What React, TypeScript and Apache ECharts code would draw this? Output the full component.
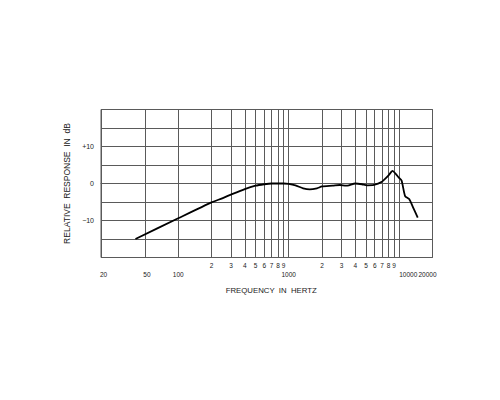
import { useEffect, useRef } from "react";
import * as echarts from "echarts";

// frequency response (Hz, dB)
const freqs = [41, 100, 200, 250, 300, 400, 500, 600, 700, 900, 1000, 1150, 1350, 1550, 1800, 2000, 2500, 2900, 3300, 3500, 4000, 4600, 5100, 5900, 6900, 8000, 8700, 9300, 9900, 10500, 11300, 12300, 13500, 14700];
const response = [-15, -9.4, -5.1, -4.0, -3.0, -1.5, -0.6, -0.2, 0, 0, -0.1, -0.5, -1.3, -1.6, -1.3, -0.8, -0.6, -0.4, -0.6, -0.5, 0, -0.2, -0.5, -0.4, 0.4, 2.2, 3.4, 2.6, 1.6, 0.8, -3.4, -4.2, -6.8, -9.2];

const gridFreqs = [20, 50, 100, 200, 300, 400, 500, 600, 700, 800, 900, 1000, 2000, 3000, 4000, 5000, 6000, 7000, 8000, 9000, 10000, 20000];
const digitFreqs = [200, 300, 400, 500, 600, 700, 800, 900, 2000, 3000, 4000, 5000, 6000, 7000, 8000, 9000];
const mainFreqs = [20, 50, 100, 1000, 10000, 20000];
const yLabelValues = [-10, 0, 10];

const FONT = "'Liberation Sans', Arial, sans-serif";
const TEXT = "#1a1a1a";
const GRID = "#5a5a5a";

// small nudges so the decade labels sit where the original has them
const mainStyle: Record<number, string> = { 20: "l5", 50: "l4", 100: "n", 1000: "n", 10000: "l18", 20000: "r10" };

export default function App() {
  const ref = useRef<HTMLDivElement | null>(null);

  useEffect(() => {
    const el = ref.current!;
    const chart = echarts.init(el, undefined, { renderer: "svg" });
    const base = { fontFamily: FONT, fontSize: 6.5, color: TEXT };
    chart.setOption({
      animation: false,
      grid: { left: 101, right: 67.5, top: 109.5, bottom: 142.5, show: true, borderColor: GRID, borderWidth: 1 },
      xAxis: [
        {
          type: "log",
          logBase: 10,
          min: 20,
          max: 20000,
          axisLine: { show: true, lineStyle: { color: GRID, width: 1 } },
          axisTick: { show: false, customValues: gridFreqs },
          splitLine: { show: true, lineStyle: { color: GRID, width: 1 } },
          axisLabel: {
            ...base,
            fontSize: 6.5,
            margin: 4,
            customValues: digitFreqs,
            formatter: (v: number) => String(v).charAt(0),
          },
          name: "FREQUENCY  IN  HERTZ",
          nameLocation: "middle",
          nameGap: 29,
          nameTextStyle: { ...base, fontSize: 7.8, padding: [0, 0, 0, 9] },
        },
        {
          type: "log",
          logBase: 10,
          min: 20,
          max: 20000,
          position: "bottom",
          axisLine: { show: false },
          axisTick: { show: false, customValues: mainFreqs },
          splitLine: { show: false },
          axisLabel: {
            ...base,
            margin: 13,
            customValues: mainFreqs,
            formatter: (v: number) => `{${mainStyle[v] ?? "n"}|${v}}`,
            rich: {
              n: { ...base },
              l4: { ...base, padding: [0, 0, 0, 4] },
              l5: { ...base, padding: [0, 0, 0, 5] },
              l18: { ...base, padding: [0, 0, 0, 18] },
              r10: { ...base, padding: [0, 10, 0, 0] },
            },
          },
        },
      ],
      yAxis: {
        type: "value",
        min: -20,
        max: 20,
        interval: 5,
        axisLine: { show: true, lineStyle: { color: GRID, width: 1 } },
        axisTick: { show: false },
        splitLine: { show: true, lineStyle: { color: GRID, width: 1 } },
        axisLabel: {
          ...base,
          fontSize: 7,
          margin: 7,
          customValues: yLabelValues,
          formatter: (v: number) => (v > 0 ? `+${v}` : v < 0 ? `\u2212${-v}` : "0"),
        },
        name: "RELATIVE  RESPONSE  IN  dB",
        nameLocation: "middle",
        nameGap: 26,
        nameRotate: 90,
        nameTextStyle: { ...base, fontSize: 8.5 },
      },
      series: [
        {
          type: "line",
          xAxisIndex: 0,
          data: freqs.map((f, i) => [f, response[i]]),
          showSymbol: false,
          smooth: 0.2,
          lineStyle: { color: "#000", width: 1.8 },
        },
      ],
    });
    return () => chart.dispose();
  }, []);

  return <div ref={ref} style={{ position: "absolute", left: 0, top: 0, width: 500, height: 400, background: "#fff" }} />;
}
